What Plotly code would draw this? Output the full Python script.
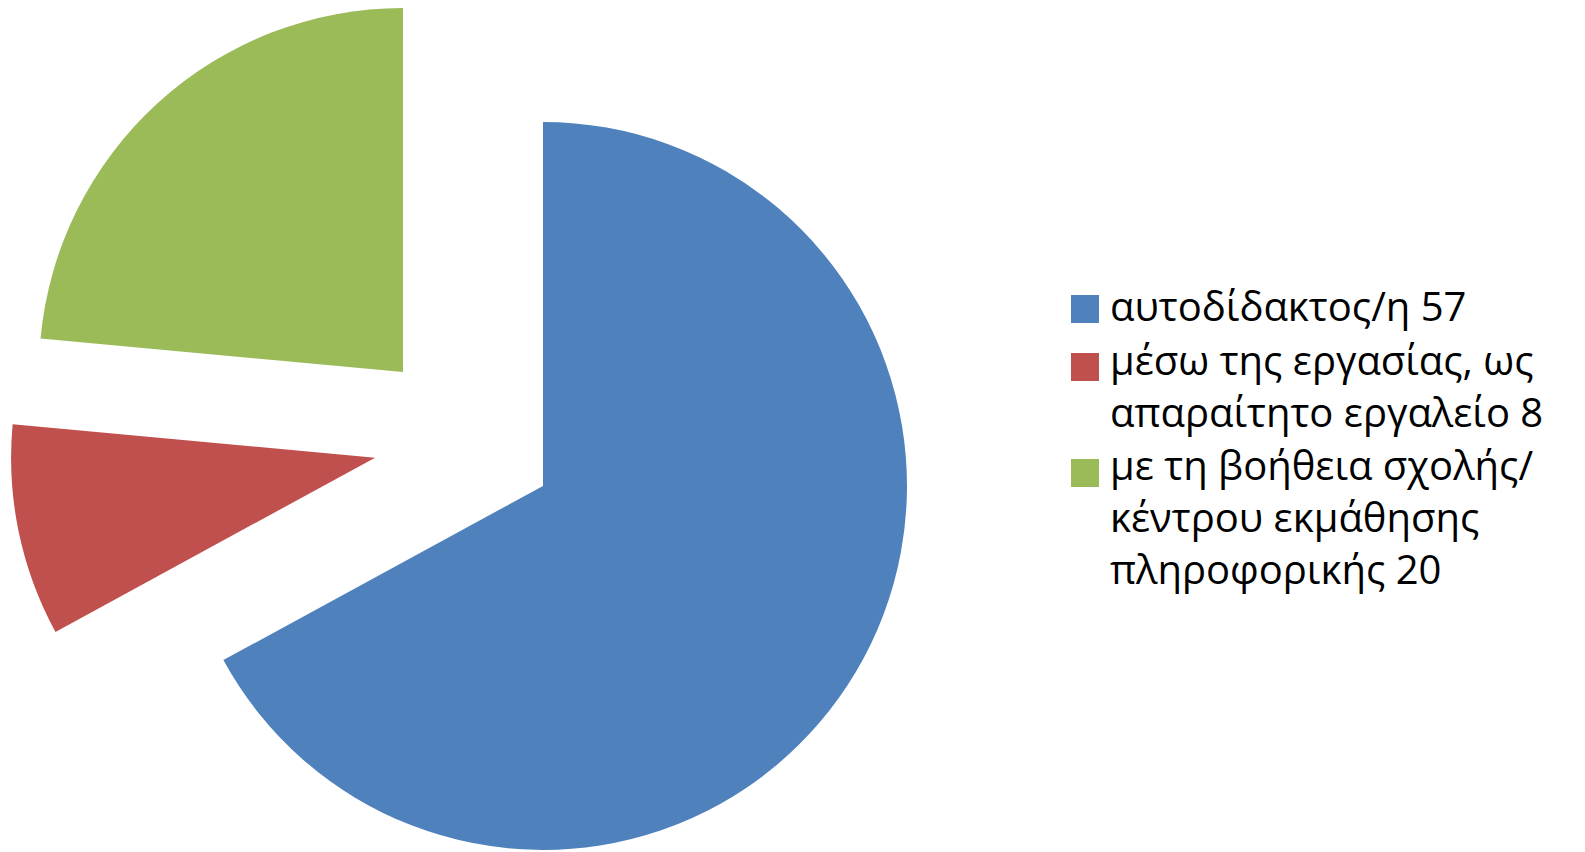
import math
import plotly.graph_objects as go

# ---- data ----
categories = [
    "αυτοδίδακτος/η 57",
    "μέσω της εργασίας, ως<br>απαραίτητο εργαλείο 8",
    "με τη βοήθεια σχολής/<br>κέντρου εκμάθησης<br>πληροφορικής 20",
]
values = [57, 8, 20]
colors = ["#4F81BD", "#C0504D", "#9BBB59"]

# ---- layout constants (page pixels) ----
OFF = 8                      # default body margin of the html page
W, H = 1585 - OFF, 852 - OFF # figure size so it fits exactly in the window
CX, CY = 464.5, 439.3        # un-exploded pie centre
R = 364                      # pie radius
EXPLODE = 91.3               # explosion distance of each slice
FONT = "'Open Sans', Lato, sans-serif"
FS = 40


def fit(lo, hi):
    """keep a domain inside [0, 1] by shifting it"""
    if hi > 1:
        lo, hi = lo - (hi - 1), 1.0
    if lo < 0:
        lo, hi = 0.0, hi - lo
    return [lo, hi]


fig = go.Figure()

total = sum(values)
cum = 0.0
for i, v in enumerate(values):
    theta = 2 * math.pi * (cum + v / 2) / total   # clockwise from 12 o'clock
    cum += v
    cx = CX + EXPLODE * math.sin(theta) - OFF
    cy = CY - EXPLODE * math.cos(theta) - OFF
    dom_x = fit((cx - R) / W, (cx + R) / W)
    dom_y = fit(1 - (cy + R) / H, 1 - (cy - R) / H)
    slice_colors = [c if j == i else "rgba(0,0,0,0)" for j, c in enumerate(colors)]
    fig.add_trace(go.Pie(
        labels=[c.replace("<br>", " ") for c in categories],
        values=values,
        sort=False,
        direction="clockwise",
        rotation=0,
        marker=dict(colors=slice_colors, line=dict(width=0)),
        textinfo="none",
        hoverinfo="label+value",
        showlegend=False,
        domain=dict(x=dom_x, y=dom_y),
    ))

# ---- custom legend (large squares like the reference) ----
square_tops = [295, 353, 459]
baseline_mid = [321, 401, 531.7]   # mean text baseline of each entry
sq_x0, sq_x1 = 1071, 1099
text_x = 1108
for top, lab, col, bm in zip(square_tops, categories, colors, baseline_mid):
    fig.add_shape(type="rect", xref="paper", yref="paper",
                  x0=(sq_x0 - OFF) / W, x1=(sq_x1 - OFF) / W,
                  y0=1 - (top + 28 - OFF) / H, y1=1 - (top - OFF) / H,
                  fillcolor=col, line=dict(width=0))
    mid = bm - 0.388 * FS - OFF
    fig.add_annotation(xref="paper", yref="paper",
                       x=(text_x - OFF) / W, y=1 - mid / H,
                       xanchor="left", yanchor="middle", align="left",
                       text=lab, showarrow=False,
                       font=dict(family=FONT, size=FS, color="#000000"))

fig.update_layout(
    width=W, height=H,
    margin=dict(l=0, r=0, t=0, b=0),
    paper_bgcolor="white",
    plot_bgcolor="white",
)

fig.write_html("out.html")
